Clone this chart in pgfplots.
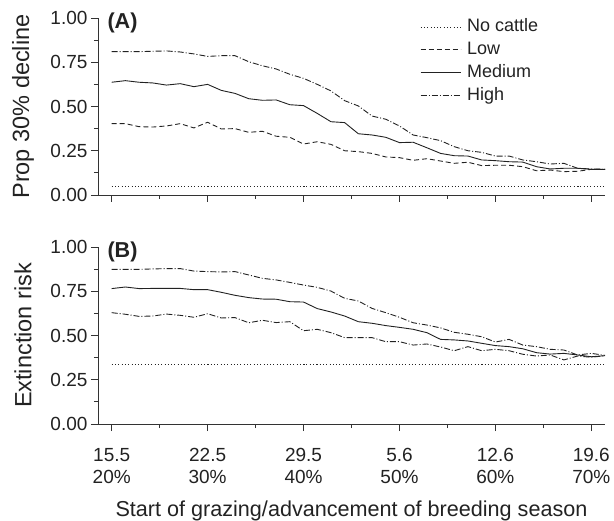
\documentclass[border=0pt]{standalone}
\usepackage{pgfplots}
\pgfplotsset{compat=1.18}
\usepackage{pgfplotstable}
\usepackage{fontspec}
\setmainfont{Liberation Sans}

\definecolor{ink}{HTML}{222222}
\definecolor{axc}{HTML}{333333}

\pgfplotstableread{
day none low med high
0 0.047 0.403 0.637 0.810
1 0.047 0.403 0.646 0.810
2 0.047 0.386 0.637 0.810
3 0.047 0.384 0.633 0.812
4 0.047 0.390 0.621 0.814
5 0.047 0.403 0.629 0.808
6 0.047 0.379 0.612 0.797
7 0.047 0.411 0.625 0.783
8 0.047 0.373 0.591 0.787
9 0.047 0.375 0.574 0.787
10 0.047 0.354 0.544 0.753
11 0.047 0.360 0.535 0.730
12 0.047 0.332 0.537 0.712
13 0.047 0.326 0.510 0.682
14 0.047 0.288 0.505 0.659
15 0.047 0.301 0.461 0.625
16 0.047 0.286 0.414 0.588
17 0.047 0.250 0.409 0.533
18 0.047 0.245 0.346 0.503
19 0.047 0.235 0.339 0.446
20 0.047 0.215 0.326 0.428
21 0.047 0.211 0.296 0.390
22 0.047 0.196 0.298 0.339
23 0.047 0.205 0.267 0.324
24 0.047 0.192 0.235 0.307
25 0.047 0.179 0.222 0.273
26 0.047 0.185 0.220 0.250
27 0.047 0.166 0.198 0.241
28 0.047 0.168 0.194 0.220
29 0.047 0.168 0.188 0.220
30 0.047 0.160 0.186 0.198
31 0.047 0.137 0.160 0.188
32 0.047 0.141 0.147 0.175
33 0.047 0.132 0.151 0.179
34 0.047 0.134 0.151 0.151
35 0.047 0.145 0.145 0.147
36 0.047 0.145 0.145 0.145
}\tableA

\pgfplotstableread{
day none low med high
0 0.337 0.629 0.765 0.874
1 0.337 0.620 0.774 0.874
2 0.337 0.608 0.765 0.874
3 0.337 0.610 0.766 0.876
4 0.337 0.621 0.766 0.878
5 0.337 0.614 0.766 0.878
6 0.337 0.603 0.759 0.864
7 0.337 0.623 0.759 0.861
8 0.337 0.599 0.744 0.859
9 0.337 0.601 0.727 0.861
10 0.337 0.572 0.714 0.842
11 0.337 0.586 0.706 0.823
12 0.337 0.573 0.705 0.814
13 0.337 0.578 0.691 0.800
14 0.337 0.527 0.689 0.785
15 0.337 0.535 0.652 0.772
16 0.337 0.516 0.633 0.751
17 0.337 0.488 0.610 0.710
18 0.337 0.488 0.578 0.695
19 0.337 0.488 0.569 0.653
20 0.337 0.465 0.556 0.629
21 0.337 0.465 0.546 0.603
22 0.337 0.446 0.535 0.572
23 0.337 0.452 0.516 0.559
24 0.337 0.435 0.478 0.543
25 0.337 0.414 0.475 0.518
26 0.337 0.437 0.469 0.507
27 0.337 0.414 0.456 0.493
28 0.337 0.422 0.443 0.463
29 0.337 0.414 0.437 0.478
30 0.337 0.394 0.425 0.446
31 0.337 0.384 0.403 0.437
32 0.337 0.390 0.395 0.422
33 0.337 0.362 0.399 0.418
34 0.337 0.384 0.390 0.390
35 0.337 0.377 0.380 0.399
36 0.337 0.386 0.386 0.388
}\tableB

\tikzset{
  nonestyle/.style={color=ink, line width=0.9bp, dash pattern=on 1bp off 2.3bp},
  lowstyle/.style={color=ink, line width=0.9bp, dash pattern=on 5bp off 3bp},
  medstyle/.style={color=ink, line width=0.9bp},
  highstyle/.style={color=ink, line width=0.9bp, dash pattern=on 6bp off 2bp on 1bp off 2bp},
}

\pgfplotsset{
  panel/.style={
    scale only axis, width=507bp, height=177bp,
    xmin=-1, xmax=36, ymin=0, ymax=1,
    clip=false,
    axis x line=bottom, axis y line=left,
    axis line style={color=axc, line width=0.9bp, -},
    xtick={0,7,14,21,28,35}, minor xtick={3.5,10.5,17.5,24.5,31.5},
    ytick={0,0.25,0.5,0.75,1}, minor ytick={0.125,0.375,0.625,0.875},
    tick align=outside, major tick length=7bp, minor tick length=4bp,
    every tick/.style={color=axc, line width=0.9bp},
    /pgf/number format/assume math mode=true,
    yticklabel style={font=\fontsize{19bp}{22bp}\selectfont, color=ink,
      /pgf/number format/.cd, fixed, fixed zerofill, precision=2},
    xticklabel style={font=\fontsize{19bp}{22bp}\selectfont, color=ink, align=center, yshift=-14bp},
    every axis y label/.style={at={(rel axis cs:0,0.5)}, xshift=-75bp, rotate=90, anchor=center,
      font=\fontsize{23.5bp}{26bp}\selectfont, color=ink},
    every axis x label/.style={at={(rel axis cs:0.5,0)}, yshift=-87bp, anchor=center,
      font=\fontsize{21.6bp}{24bp}\selectfont, color=ink},
  }
}

\begin{document}
\begin{tikzpicture}
\path[use as bounding box] (0,0) rectangle (614bp,521bp);

\begin{axis}[panel, at={(98bp,326bp)}, anchor=south west,
  xticklabels={},
  ylabel={Prop 30\% decline},
  legend style={at={(rel axis cs:0.6351,1.013)}, anchor=north west, draw=none, fill=none,
    inner sep=0pt, font=\fontsize{18bp}{20bp}\selectfont, text=ink,
    nodes={inner xsep=3bp, inner ysep=3.1bp, text height=13bp, text depth=3.5bp},
    /tikz/every odd column/.append style={column sep=3bp}},
  legend cell align=left,
  legend image code/.code={\draw[#1] (0bp,0bp) -- (40bp,0bp);},
]
\addplot[nonestyle] table[x=day, y=none] {\tableA};
\addplot[lowstyle] table[x=day, y=low] {\tableA};
\addplot[medstyle] table[x=day, y=med] {\tableA};
\addplot[highstyle] table[x=day, y=high] {\tableA};
\legend{No cattle, Low, Medium, High}
\node[anchor=west, font=\fontsize{21.6bp}{24bp}\selectfont\bfseries, color=ink, xshift=6bp, yshift=-5bp] at (rel axis cs:0,1) {(A)};
\end{axis}

\begin{axis}[panel, at={(98bp,97bp)}, anchor=south west,
  xticklabels={{15.5\\20\%},{22.5\\30\%},{29.5\\40\%},{5.6\\50\%},{12.6\\60\%},{19.6\\70\%}},
  ylabel={Extinction risk},
  xlabel={Start of grazing/advancement of breeding season},
]
\addplot[nonestyle] table[x=day, y=none] {\tableB};
\addplot[highstyle] table[x=day, y=low] {\tableB};
\addplot[medstyle] table[x=day, y=med] {\tableB};
\addplot[highstyle] table[x=day, y=high] {\tableB};
\node[anchor=west, font=\fontsize{21.6bp}{24bp}\selectfont\bfseries, color=ink, xshift=6bp, yshift=-5bp] at (rel axis cs:0,1) {(B)};
\end{axis}
\end{tikzpicture}
\end{document}
